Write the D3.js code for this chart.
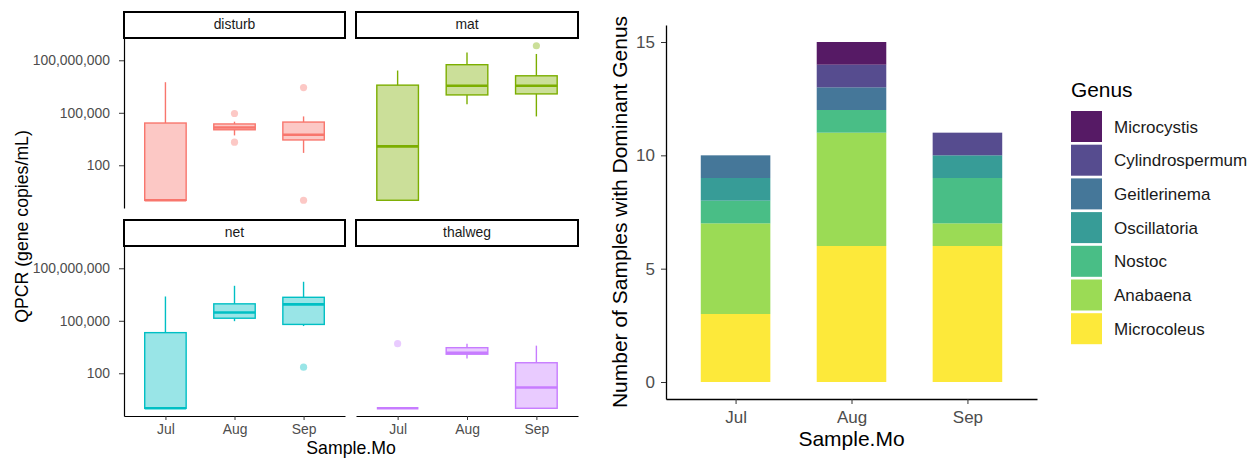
<!DOCTYPE html>
<html>
<head>
<meta charset="utf-8">
<script src="https://cdn.jsdelivr.net/npm/d3@7"></script>
<style>
    body { margin: 0; background: #fff; }
    text { font-family: "Liberation Sans", Arial, Helvetica, sans-serif; }
</style>
</head>
<body>
<div id="chart"></div>
<script>
const months = ["Jul", "Aug", "Sep"]
const sites = ["disturb", "mat", "net", "thalweg"]
const siteColors = ["#F8766D", "#7CAE00", "#00BFC4", "#C77CFF"]
const qpcrTicks = [100, 1e5, 1e8]

// one row per month: [lower whisker, q1, median, q3, upper whisker]
const disturbBoxes = [[1, 1, 1, 2.6e4, 5.6e6], [5.1e3, 1.07e4, 1.45e4, 2.3e4, 3.1e4], [510, 2.8e3, 5.6e3, 2.95e4, 6.2e4]]
const matBoxes = [[1, 1, 1.2e3, 3.8e6, 2.6e7], [3.1e5, 1.05e6, 3.5e6, 5.6e7, 2.8e8], [6.2e4, 1.2e6, 3.5e6, 1.3e7, 2.3e8]]
const netBoxes = [[1, 1, 1, 2.1e4, 2.45e6], [9.5e4, 1.4e5, 2.95e5, 9.3e5, 1.0e7], [5.0e4, 6.2e4, 8.7e5, 2.2e6, 1.7e7]]
const thalwegBoxes = [[1, 1, 1, 1, 1], [690, 1.23e3, 1.5e3, 2.9e3, 4.9e3], [1, 1, 15.5, 400, 3.8e3]]

const disturbOutliers = [[], [9.1e4, 2.1e3], [2.75e6, 1]]
const matOutliers = [[], [], [6.8e8]]
const netOutliers = [[], [], [224]]
const thalwegOutliers = [[4.9e3], [], []]

const genera = ["Microcystis", "Cylindrospermum", "Geitlerinema", "Oscillatoria", "Nostoc", "Anabaena", "Microcoleus"]
const microcystis = [0, 1, 0]
const cylindrospermum = [0, 1, 1]
const geitlerinema = [1, 1, 0]
const oscillatoria = [1, 0, 1]
const nostoc = [1, 1, 2]
const anabaena = [4, 5, 1]
const microcoleus = [3, 6, 6]
const countTicks = [0, 5, 10, 15]

const boxes = [disturbBoxes, matBoxes, netBoxes, thalwegBoxes]
const outliers = [disturbOutliers, matOutliers, netOutliers, thalwegOutliers]
const genusCounts = [microcystis, cylindrospermum, geitlerinema, oscillatoria, nostoc, anabaena, microcoleus]

const width = 1260
const height = 459
const tickGrey = "#4D4D4D"

const svg = d3.select("#chart")
    .append("svg")
    .attr("width", width)
    .attr("height", height)

// ---------- left: faceted boxplots ----------
const colX = [[124, 345], [356, 578]]
const rowY = [[38, 208], [246, 416]]

const allVals = boxes.flat(2).concat(outliers.flat(2))
const lmin = Math.log10(d3.min(allVals))
const lmax = Math.log10(d3.max(allVals))
const pad = (lmax - lmin) * 0.05

sites.forEach((site, i) => {
    const col = i % 2
    const row = Math.floor(i / 2)
    const [x0, x1] = colX[col]
    const [yt, yb] = rowY[row]
    const color = siteColors[i]

    const x = d3.scalePoint().domain(months).range([x0, x1]).padding(0.6)
    const y = d3.scaleLog().domain([Math.pow(10, lmin - pad), Math.pow(10, lmax + pad)]).range([yb, yt])
    const bw = x.step() * 0.6

    // strip
    svg.append("rect")
        .attr("x", x0).attr("y", yt - 26)
        .attr("width", x1 - x0).attr("height", 26)
        .attr("fill", "#fff").attr("stroke", "#000").attr("stroke-width", 2)
    svg.append("text")
        .attr("x", (x0 + x1) / 2).attr("y", yt - 9)
        .attr("text-anchor", "middle")
        .attr("font-size", "13.9px")
        .attr("fill", "#1A1A1A")
        .text(site)

    const g = svg.append("g")

    months.forEach((m, j) => {
        const [lo, q1, med, q3, hi] = boxes[i][j]
        const cx = x(m)

        g.selectAll(null)
            .data(outliers[i][j])
            .join("circle")
            .attr("cx", cx).attr("cy", d => y(d)).attr("r", 3.6)
            .attr("fill", color).attr("fill-opacity", 0.4)

        g.append("line")
            .attr("x1", cx).attr("x2", cx).attr("y1", y(hi)).attr("y2", y(q3))
            .attr("stroke", color).attr("stroke-width", 1.4)
        g.append("line")
            .attr("x1", cx).attr("x2", cx).attr("y1", y(q1)).attr("y2", y(lo))
            .attr("stroke", color).attr("stroke-width", 1.4)

        g.append("rect")
            .attr("x", cx - bw / 2).attr("y", y(q3))
            .attr("width", bw).attr("height", Math.max(0, y(q1) - y(q3)))
            .attr("fill", color).attr("fill-opacity", 0.4)
            .attr("stroke", color).attr("stroke-width", 1.4)

        g.append("line")
            .attr("x1", cx - bw / 2).attr("x2", cx + bw / 2)
            .attr("y1", y(med)).attr("y2", y(med))
            .attr("stroke", color).attr("stroke-width", 2.6)
    })

    if (col === 0) {
        const ay = svg.append("g")
            .attr("transform", `translate(${x0},0)`)
            .call(d3.axisLeft(y).tickValues(qpcrTicks).tickFormat(d3.format(",")).tickSize(5).tickPadding(9).tickSizeOuter(0))
        ay.attr("font-family", null).attr("font-size", null)
        ay.selectAll("text").attr("font-size", "13.9px").attr("fill", tickGrey)
        ay.selectAll("line").attr("stroke", "#333")
        ay.select(".domain").attr("stroke", "#000").attr("stroke-width", 1.2)
    }
    if (row === 1) {
        const ax = svg.append("g")
            .attr("transform", `translate(0,${yb})`)
            .call(d3.axisBottom(x).tickSize(4).tickPadding(4.6).tickSizeOuter(0))
        ax.attr("font-family", null).attr("font-size", null)
        ax.selectAll("text").attr("font-size", "13.9px").attr("fill", tickGrey)
        ax.selectAll("line").attr("stroke", "#333")
        ax.select(".domain").attr("stroke", "#000").attr("stroke-width", 1.2)
    }
})

svg.append("text")
    .attr("x", (colX[0][0] + colX[1][1]) / 2).attr("y", 454.3)
    .attr("text-anchor", "middle")
    .attr("font-size", "17.7px")
    .text("Sample.Mo")

svg.append("text")
    .attr("transform", "translate(27.5,226.5) rotate(-90)")
    .attr("text-anchor", "middle")
    .attr("font-size", "17.7px")
    .text("QPCR (gene copies/mL)")

// ---------- right: stacked bars ----------
const rows = months.map((m, j) => {
    const r = { month: m }
    genera.forEach((gn, k) => { r[gn] = genusCounts[k][j] })
    return r
})
const stackKeys = genera.slice().reverse()
const series = d3.stack().keys(stackKeys)(rows)
const maxTotal = d3.max(series[series.length - 1], d => d[1])

const bx = d3.scalePoint().domain(months).range([666, 1037]).padding(0.6)
const by = d3.scaleLinear().domain([-maxTotal * 0.05, maxTotal * 1.05]).range([399, 25])
const colorOf = d3.scaleOrdinal().domain(genera).range(genera.map((d, k) => d3.interpolateViridis(k / (genera.length - 1))))
const barW = bx.step() * 0.6

svg.append("g")
    .selectAll("g")
    .data(series)
    .join("g")
    .attr("fill", d => colorOf(d.key))
    .attr("fill-opacity", 0.9)
    .selectAll("rect")
    .data(d => d)
    .join("rect")
    .attr("x", d => bx(d.data.month) - barW / 2)
    .attr("y", d => by(d[1]))
    .attr("width", barW)
    .attr("height", d => by(d[0]) - by(d[1]))

const rY = svg.append("g")
    .attr("transform", "translate(666,0)")
    .call(d3.axisLeft(by).tickValues(countTicks).tickSize(5).tickPadding(6).tickSizeOuter(0))
rY.attr("font-family", null).attr("font-size", null)
rY.selectAll("text").attr("font-size", "17px").attr("fill", tickGrey)
rY.selectAll("line").attr("stroke", "#333")
rY.select(".domain").attr("stroke", "#000").attr("stroke-width", 1.3)

const rX = svg.append("g")
    .attr("transform", "translate(0,399)")
    .call(d3.axisBottom(bx).tickSize(5).tickPadding(6.6).tickSizeOuter(0))
rX.attr("font-family", null).attr("font-size", null)
rX.selectAll("text").attr("font-size", "17px").attr("fill", tickGrey)
rX.selectAll("line").attr("stroke", "#333")
rX.select(".domain").attr("stroke", "#000").attr("stroke-width", 1.3)

svg.append("text")
    .attr("x", 851.5).attr("y", 446)
    .attr("text-anchor", "middle")
    .attr("font-size", "21px")
    .text("Sample.Mo")

svg.append("text")
    .attr("transform", "translate(627,212) rotate(-90)")
    .attr("text-anchor", "middle")
    .attr("font-size", "21px")
    .text("Number of Samples with Dominant Genus")

// legend
const legend = svg.append("g").attr("transform", "translate(1071,0)")
legend.append("text")
    .attr("x", 0).attr("y", 96.7)
    .attr("font-size", "20.9px")
    .text("Genus")

const item = legend.selectAll("g.item")
    .data(genera)
    .join("g")
    .attr("class", "item")
    .attr("transform", (d, k) => `translate(0,${111 + k * 33.7})`)
item.append("rect")
    .attr("width", 31).attr("height", 31)
    .attr("fill", d => colorOf(d)).attr("fill-opacity", 0.9)
item.append("text")
    .attr("x", 43).attr("y", 21.6)
    .attr("font-size", "17px")
    .attr("fill", "#1A1A1A")
    .text(d => d)
</script>
</body>
</html>
